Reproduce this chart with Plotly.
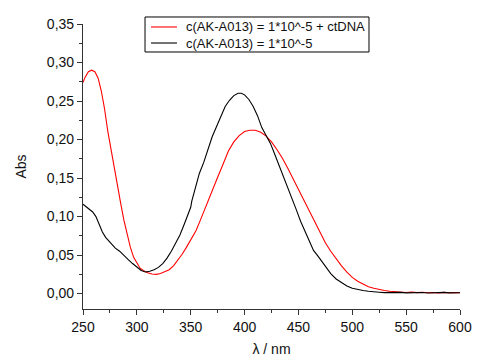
import plotly.graph_objects as go

# Red: c(AK-A013) = 1*10^-5 + ctDNA
red_nm = [250, 252, 255, 258, 261, 264, 267, 270, 273, 276, 279, 282, 285, 288, 291, 294, 297,
          300, 303, 306, 310, 314, 318, 322, 326, 330, 334, 338, 342, 346, 350, 355, 360, 365,
          370, 375, 380, 385, 390, 395, 400, 405, 410, 415, 420, 425, 430, 435, 440, 445, 450,
          455, 460, 465, 470, 475, 480, 485, 490, 495, 500, 505, 510, 515, 520, 525, 530, 535,
          540, 545, 550, 555, 560, 565, 570, 575, 580, 585, 590, 595, 600]
red_abs = [0.274, 0.281, 0.288, 0.290, 0.288, 0.280, 0.263, 0.240, 0.211, 0.186, 0.162, 0.140,
           0.117, 0.095, 0.076, 0.060, 0.047, 0.039, 0.033, 0.030, 0.027, 0.0255, 0.025, 0.026,
           0.028, 0.031, 0.036, 0.043, 0.051, 0.060, 0.069, 0.082, 0.099, 0.1155, 0.133, 0.151,
           0.168, 0.185, 0.197, 0.205, 0.2105, 0.212, 0.212, 0.2095, 0.2045, 0.197, 0.187,
           0.176, 0.163, 0.149, 0.135, 0.120, 0.106, 0.092, 0.080, 0.066, 0.055, 0.045, 0.036,
           0.028, 0.021, 0.016, 0.012, 0.009, 0.007, 0.005, 0.004, 0.003, 0.0025, 0.002, 0.0015,
           0.002, 0.0012, 0.0018, 0.001, 0.0015, 0.0008, 0.0016, 0.001, 0.0014, 0.001]

# Black: c(AK-A013) = 1*10^-5
black_nm = [250, 253, 256, 259, 262, 265, 268, 271, 274, 277, 280, 284, 288, 292, 296, 300, 304,
            308, 312, 316, 320, 324, 328, 332, 336, 340, 344, 348, 350, 351, 354, 358, 362, 366,
            370, 374, 378, 382, 386, 390, 394, 397, 400, 404, 408, 412, 416, 420, 424, 428, 432,
            436, 440, 444, 448, 452, 456, 460, 464, 468, 472, 476, 480, 485, 490, 495, 500, 505,
            510, 515, 520, 525, 530, 535, 540, 545, 550, 555, 560, 565, 570, 575, 580, 585, 590,
            595, 600]
black_abs = [0.116, 0.113, 0.110, 0.106, 0.100, 0.090, 0.080, 0.073, 0.068, 0.063, 0.059, 0.055,
             0.049, 0.044, 0.039, 0.034, 0.030, 0.028, 0.029, 0.031, 0.034, 0.039, 0.046, 0.055,
             0.065, 0.076, 0.090, 0.106, 0.112, 0.120, 0.135, 0.156, 0.170, 0.188, 0.204, 0.217,
             0.231, 0.243, 0.251, 0.257, 0.260, 0.260, 0.258, 0.252, 0.243, 0.231, 0.2155, 0.206,
             0.195, 0.181, 0.167, 0.153, 0.138, 0.124, 0.109, 0.094, 0.081, 0.068, 0.056, 0.049,
             0.041, 0.034, 0.026, 0.019, 0.014, 0.010, 0.007, 0.005, 0.004, 0.003, 0.002, 0.0018,
             0.0012, 0.0015, 0.001, 0.0016, 0.0009, 0.0014, 0.001, 0.0015, 0.0008, 0.0013, 0.001,
             0.0016, 0.0009, 0.0012, 0.001]

series_names = ["c(AK-A013) = 1*10^-5 + ctDNA", "c(AK-A013) = 1*10^-5"]
series_colors = ["#ff0000", "#000000"]

FONT = "Liberation Sans, Arial, sans-serif"

fig = go.Figure()
fig.add_trace(go.Scatter(x=red_nm, y=red_abs, mode="lines", name=series_names[0],
                         line=dict(color=series_colors[0], width=1.1)))
fig.add_trace(go.Scatter(x=black_nm, y=black_abs, mode="lines", name=series_names[1],
                         line=dict(color=series_colors[1], width=1.1)))

# Compact boxed legend (Origin style) drawn in paper coordinates
leg_box = dict(x0=0.1645, x1=0.7586, y0=0.9018, y1=1.0246)
leg_rows_y = [0.9895, 0.9333]
leg_line_x = (0.1804, 0.2493)
leg_text_x = 0.2679
fig.add_shape(type="rect", xref="paper", yref="paper", **leg_box,
              line=dict(color="#000", width=1), fillcolor="white", layer="above")
for name, color, yy in zip(series_names, series_colors, leg_rows_y):
    fig.add_shape(type="line", xref="paper", yref="paper", x0=leg_line_x[0], x1=leg_line_x[1],
                  y0=yy, y1=yy, line=dict(color=color, width=1.1), layer="above")
    fig.add_annotation(xref="paper", yref="paper", x=leg_text_x, y=yy, text=name,
                       showarrow=False, xanchor="left", yanchor="middle",
                       font=dict(family=FONT, size=13, color="#111"))

axis_common = dict(showline=True, linecolor="#333333", linewidth=1.2, ticks="outside",
                   ticklen=5, tickwidth=1.2, tickcolor="#333333", showgrid=False,
                   zeroline=False, mirror=False,
                   tickfont=dict(family=FONT, size=14, color="#111"))

fig.update_layout(
    width=477, height=361,
    margin=dict(l=83, r=17, t=24, b=52, autoexpand=False),
    paper_bgcolor="white", plot_bgcolor="white",
    separators=",.",
    font=dict(family=FONT, size=14, color="#111"),
    xaxis=dict(range=[250, 600], dtick=50, tick0=250,
               title=dict(text="λ / nm", standoff=10, font=dict(size=14)),
               minor=dict(dtick=25, ticks="outside", ticklen=3, tickcolor="#333333", showgrid=False),
               **axis_common),
    yaxis=dict(range=[-0.02, 0.35], dtick=0.05, tick0=0, tickformat=".2f",
               title=dict(text="Abs", standoff=16, font=dict(size=14)),
               minor=dict(dtick=0.025, ticks="outside", ticklen=3, tickcolor="#333333", showgrid=False),
               **axis_common),
    showlegend=False,
)

fig.write_html("out.html", config={"displayModeBar": False},
               post_script="document.body.style.margin='0';document.body.style.padding='0';")
